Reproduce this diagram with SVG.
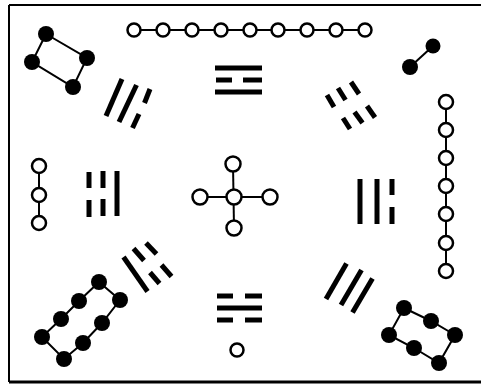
<svg xmlns="http://www.w3.org/2000/svg" width="481" height="386" viewBox="0 0 481 386">
<style>
.w{fill:#fff;stroke:#000;stroke-width:2.5}
.b{fill:#000}
.c{stroke:#000;stroke-width:2;fill:none}
.t{stroke:#000;stroke-width:5;fill:none;stroke-linecap:butt}
</style>
<rect width="481" height="386" fill="#fff"/>
<g id="frame" fill="none" stroke="#000" stroke-width="2">
<line x1="9" y1="5" x2="481" y2="5"/>
<line x1="9" y1="5" x2="9" y2="382"/>
<line x1="9" y1="382" x2="481" y2="382" stroke-width="3"/>
</g>
<g id="connectors" class="c">
<line x1="134" y1="30" x2="365" y2="30"/>
<line x1="446" y1="102" x2="446" y2="271"/>
<line x1="39" y1="166" x2="39" y2="223"/>
<line x1="233" y1="164" x2="234" y2="228"/>
<line x1="200" y1="197" x2="270" y2="197"/>
<polygon points="46,34 87,58 73,87 32,62"/>
<line x1="433" y1="46" x2="410" y2="67"/>
<polyline points="404,308 431,321 455,335 439,363 414,348 389,335 404,308"/>
<polyline points="99,282 79,301 61,319 42,337 64,359 83,343 102,323 120,300 99,282"/>
</g>
<g id="n-top-chain">
<circle class="w" cx="134" cy="30" r="6.5"/><circle class="w" cx="163" cy="30" r="6.5"/><circle class="w" cx="192" cy="30" r="6.5"/><circle class="w" cx="221" cy="30" r="6.5"/><circle class="w" cx="250" cy="30" r="6.5"/><circle class="w" cx="278" cy="30" r="6.5"/><circle class="w" cx="307" cy="30" r="6.5"/><circle class="w" cx="336" cy="30" r="6.5"/><circle class="w" cx="365" cy="30" r="6.5"/>
</g>
<g id="n-right-chain">
<circle class="w" cx="446" cy="102" r="7"/><circle class="w" cx="446" cy="130" r="7"/><circle class="w" cx="446" cy="158" r="7"/><circle class="w" cx="446" cy="186" r="7"/><circle class="w" cx="446" cy="214" r="7"/><circle class="w" cx="446" cy="243" r="7"/><circle class="w" cx="446" cy="271" r="7"/>
</g>
<g id="n-left-chain">
<circle class="w" cx="39" cy="166" r="7"/><circle class="w" cx="39" cy="195" r="7"/><circle class="w" cx="39" cy="223" r="7"/>
</g>
<g id="n-center">
<circle class="w" cx="234" cy="197" r="7.5"/><circle class="w" cx="233" cy="164" r="7.5"/><circle class="w" cx="234" cy="228" r="7.5"/><circle class="w" cx="200" cy="197" r="7.5"/><circle class="w" cx="270" cy="197" r="7.5"/>
</g>
<g id="n-bottom-dot"><circle class="w" cx="237" cy="350" r="6.5"/></g>
<g id="n-topleft-dots">
<circle class="b" cx="46" cy="34" r="8"/><circle class="b" cx="87" cy="58" r="8"/><circle class="b" cx="73" cy="87" r="8"/><circle class="b" cx="32" cy="62" r="8"/>
</g>
<g id="n-topright-dots">
<circle class="b" cx="433" cy="46" r="7.5"/><circle class="b" cx="410" cy="67" r="8"/>
</g>
<g id="n-bottomright-dots">
<circle class="b" cx="404" cy="308" r="8"/><circle class="b" cx="431" cy="321" r="8"/><circle class="b" cx="455" cy="335" r="8"/><circle class="b" cx="439" cy="363" r="8"/><circle class="b" cx="414" cy="348" r="8"/><circle class="b" cx="389" cy="335" r="8"/>
</g>
<g id="n-bottomleft-dots">
<circle class="b" cx="99" cy="282" r="8"/><circle class="b" cx="79" cy="301" r="8"/><circle class="b" cx="61" cy="319" r="8"/><circle class="b" cx="42" cy="337" r="8"/><circle class="b" cx="64" cy="359" r="8"/><circle class="b" cx="83" cy="343" r="8"/><circle class="b" cx="102" cy="323" r="8"/><circle class="b" cx="120" cy="300" r="8"/>
</g>
<g id="n-trigram-li" class="t">
<line x1="215" y1="68" x2="262" y2="68"/>
<line x1="216" y1="80" x2="232" y2="80"/><line x1="243" y1="80" x2="262" y2="80"/>
<line x1="215" y1="92" x2="262" y2="92"/>
</g>
<g id="n-trigram-kan" class="t">
<line x1="217" y1="296" x2="233" y2="296"/><line x1="245" y1="296" x2="262" y2="296"/>
<line x1="217" y1="308" x2="262" y2="308"/>
<line x1="217" y1="320" x2="233" y2="320"/><line x1="245" y1="320" x2="262" y2="320"/>
</g>
<g id="n-trigram-zhen" class="t">
<line x1="89" y1="172" x2="89" y2="188"/><line x1="89" y1="200" x2="89" y2="217"/>
<line x1="103" y1="171" x2="103" y2="188"/><line x1="103" y1="199" x2="103" y2="216"/>
<line x1="117" y1="171" x2="117" y2="216"/>
</g>
<g id="n-trigram-dui" class="t">
<line x1="360" y1="179" x2="360" y2="224"/>
<line x1="377" y1="179" x2="377" y2="224"/>
<line x1="392" y1="179" x2="392" y2="195"/><line x1="392" y1="207" x2="392" y2="224"/>
</g>
<g id="n-trigram-xun" class="t">
<line x1="122" y1="79" x2="106" y2="116"/>
<line x1="136.5" y1="85" x2="119" y2="122"/>
<line x1="150" y1="89" x2="144.5" y2="103"/><line x1="139" y1="114" x2="132.5" y2="128"/>
</g>
<g id="n-trigram-kun" class="t">
<line x1="327" y1="95" x2="334" y2="107"/><line x1="343" y1="118" x2="350" y2="129"/>
<line x1="338" y1="88" x2="345.5" y2="100"/><line x1="354.5" y1="112" x2="362.5" y2="123"/>
<line x1="351" y1="82" x2="359" y2="94"/><line x1="367" y1="106" x2="375" y2="117.5"/>
</g>
<g id="n-trigram-gen" class="t">
<line x1="123.5" y1="257" x2="147.5" y2="291.5"/>
<line x1="133.5" y1="248.5" x2="144" y2="260.5"/><line x1="150" y1="272.5" x2="159.5" y2="283.5"/>
<line x1="146" y1="243" x2="156.5" y2="254"/><line x1="161.5" y1="265" x2="171.5" y2="276.5"/>
</g>
<g id="n-trigram-qian" class="t">
<line x1="346.5" y1="263.5" x2="326" y2="299"/>
<line x1="361.5" y1="270" x2="341" y2="305"/>
<line x1="372.5" y1="278.5" x2="352.5" y2="312.5"/>
</g>
</svg>
